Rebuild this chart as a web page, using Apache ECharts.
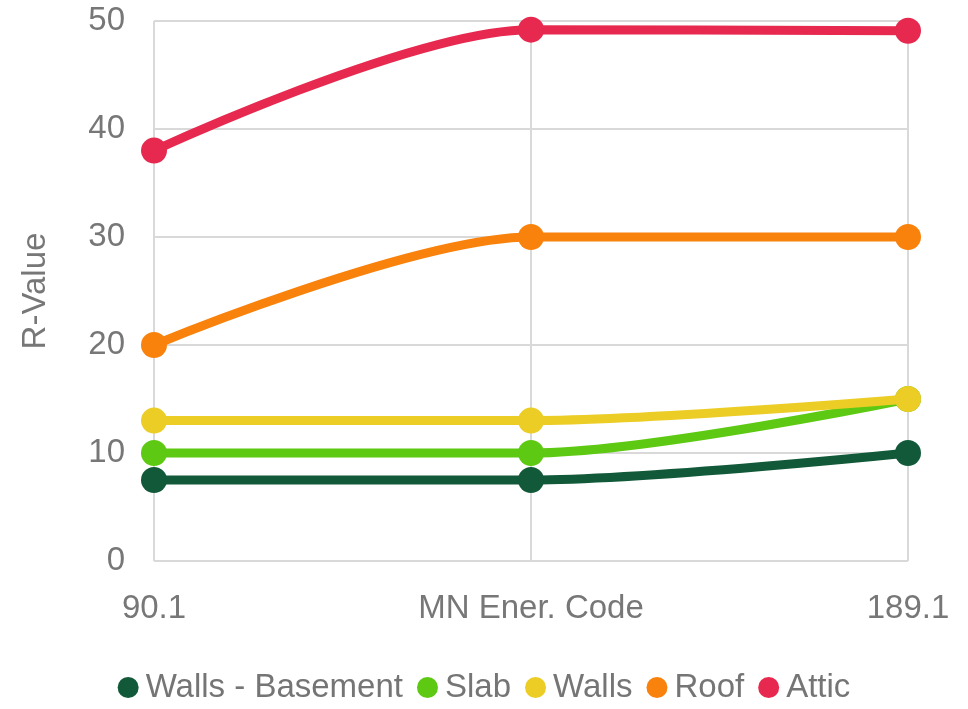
<!DOCTYPE html>
<html lang="en">
<head>
  <meta charset="UTF-8">
  <title>R-Value</title>
  <style>
    *{ margin: 0; padding: 0; }
    body{ background: #ffffff; }
    #chart{ width: 968px; height: 709px; }
  </style>
</head>
<body>
<div id="chart"></div>
<script src="https://cdn.jsdelivr.net/npm/echarts@6/dist/echarts.min.js"></script>
<script>
  // categories on the x axis
  var categories = ['90.1', 'MN Ener. Code', '189.1'];
  // series values
  var wallsBasement = [7.5, 7.5, 10];
  var slab = [10, 10, 15];
  var walls = [13, 13, 15];
  var roof = [20, 30, 30];
  var attic = [38, 49.2, 49.1];

  var seriesNames = ['Walls - Basement', 'Slab', 'Walls', 'Roof', 'Attic'];
  var seriesData = [wallsBasement, slab, walls, roof, attic];
  var colors = ['#12593a', '#5dc912', '#ebcd25', '#f8820c', '#e7294f'];

  var myChart = echarts.init(document.getElementById('chart'));
  var font = 'Liberation Sans';

  var option = {
    animation: false,
    color: colors,
    grid: { left: 154, right: 60, top: 21, bottom: 148 },
    legend: {
      bottom: 0,
      left: 'center',
      icon: 'circle',
      itemWidth: 21,
      itemHeight: 21,
      itemGap: 14,
      textStyle: { fontFamily: font, fontSize: 33, color: '#757575', padding: [0, 0, 0, 2] },
      data: seriesNames
    },
    xAxis: {
      type: 'category',
      data: categories,
      boundaryGap: false,
      axisLine: { show: false },
      axisTick: { show: false },
      splitLine: { show: true, lineStyle: { color: '#d9d9d9', width: 2 } },
      axisLabel: { fontFamily: font, fontSize: 33, color: '#777777', margin: 31 }
    },
    yAxis: {
      type: 'value',
      min: 0,
      max: 50,
      interval: 10,
      name: 'R-Value',
      nameLocation: 'middle',
      nameGap: 102,
      nameTextStyle: { fontFamily: font, fontSize: 33, color: '#777777' },
      axisLine: { show: false },
      axisTick: { show: false },
      splitLine: { lineStyle: { color: '#d9d9d9', width: 2 } },
      axisLabel: { fontFamily: font, fontSize: 33, color: '#777777', margin: 29 }
    },
    series: seriesNames.map(function (name, i) {
      return {
        name: name,
        type: 'line',
        data: seriesData[i],
        smooth: 0.3,
        symbol: 'circle',
        symbolSize: 26,
        lineStyle: { width: 9 },
        z: 2 + i
      };
    })
  };

  myChart.setOption(option);
</script>
</body>
</html>
